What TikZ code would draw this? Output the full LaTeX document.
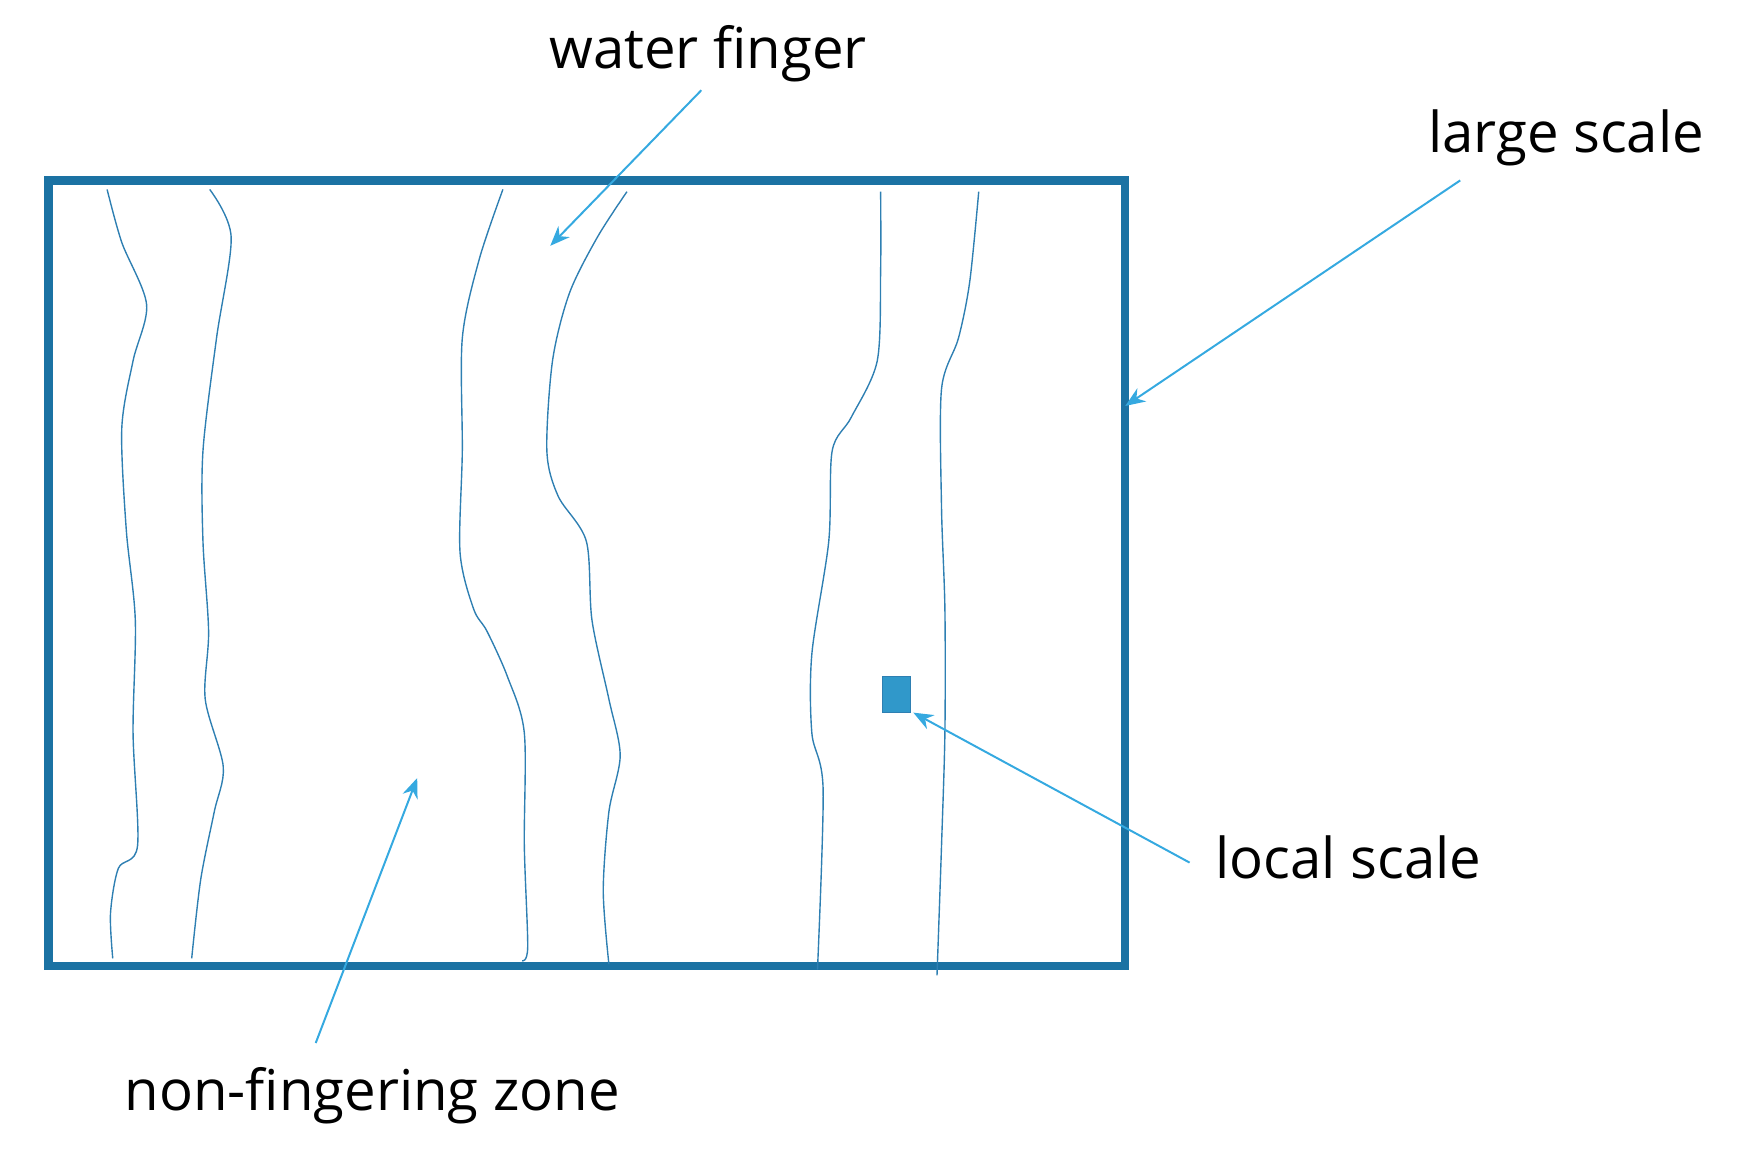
\documentclass[tikz,border=0pt]{standalone}
\usepackage{fontspec}
\setmainfont{Open Sans}
\usetikzlibrary{arrows.meta}
\begin{document}
\begin{tikzpicture}[x=0.01cm,y=-0.01cm,
  frame/.style={draw=frameblue,line width=2.1pt},
  curve/.style={draw=curveblue,line width=0.35pt},
  lbl/.style={font=\fontsize{14.2}{17}\selectfont,text=black,inner sep=0pt},
  ptr/.style={draw=arrowblue,line width=0.5pt,-{Stealth[length=5pt,width=4pt]}}]
\definecolor{frameblue}{HTML}{1B72A3}
\definecolor{curveblue}{HTML}{2E7FB2}
\definecolor{arrowblue}{HTML}{35A9E0}
\useasboundingbox (0,0) rectangle (1560,1030);
\draw[frame] (43,160) rectangle (998,857);
\coordinate (fr) at (998,360);
\draw[curve] plot[smooth,tension=0.5] coordinates {(95,168) (108,215) (130,270) (118,320) (108,380) (112,470) (120,550) (118,650) (122,750) (105,770) (98,810) (100,850)};
\draw[curve] plot[smooth,tension=0.5] coordinates {(186,168) (205,210) (192,300) (180,400) (180,480) (185,560) (182,620) (198,680) (190,720) (178,780) (170,850)};
\draw[curve] plot[smooth,tension=0.5] coordinates {(446,168) (425,230) (410,300) (410,400) (408,490) (420,540) (432,560) (450,600) (465,650) (465,750) (468,840) (463,852)};
\draw[curve] plot[smooth,tension=0.5] coordinates {(556,170) (530,210) (505,260) (490,320) (485,400) (495,440) (520,480) (525,550) (540,620) (550,670) (540,720) (535,790) (540,855)};
\draw[curve] plot[smooth,tension=0.5] coordinates {(781,170) (781,240) (778,320) (755,370) (738,400) (735,480) (720,580) (720,650) (730,700) (725,860)};
\draw[curve] plot[smooth,tension=0.5] coordinates {(868,170) (860,250) (850,300) (835,345) (835,450) (838,540) (838,650) (835,750) (831,865)};
\node[fill=arrowblue!90!black,draw=curveblue,line width=0.4pt,minimum width=0.25cm,minimum height=0.32cm,inner sep=0] (sq) at (795,616) {};
\node[lbl] (wf) at (628,48) {water finger};
\node[lbl] (ls) at (1389,122) {large scale};
\node[lbl] (loc) at (1196,760) {local scale};
\node[lbl] (nf) at (330,972) {non-fingering zone};
\coordinate (wfs) at (622,80); \coordinate (wft) at (488,218);
\coordinate (lss) at (1295,160);
\coordinate (locs) at (1055,765); \coordinate (loct) at (810,632);
\coordinate (nfs) at (280,925); \coordinate (nft) at (370,690);
\draw[ptr] (wfs) -- (wft);
\draw[ptr] (lss) -- (fr);
\draw[ptr] (locs) -- (loct);
\draw[ptr] (nfs) -- (nft);
\end{tikzpicture}
\end{document}
